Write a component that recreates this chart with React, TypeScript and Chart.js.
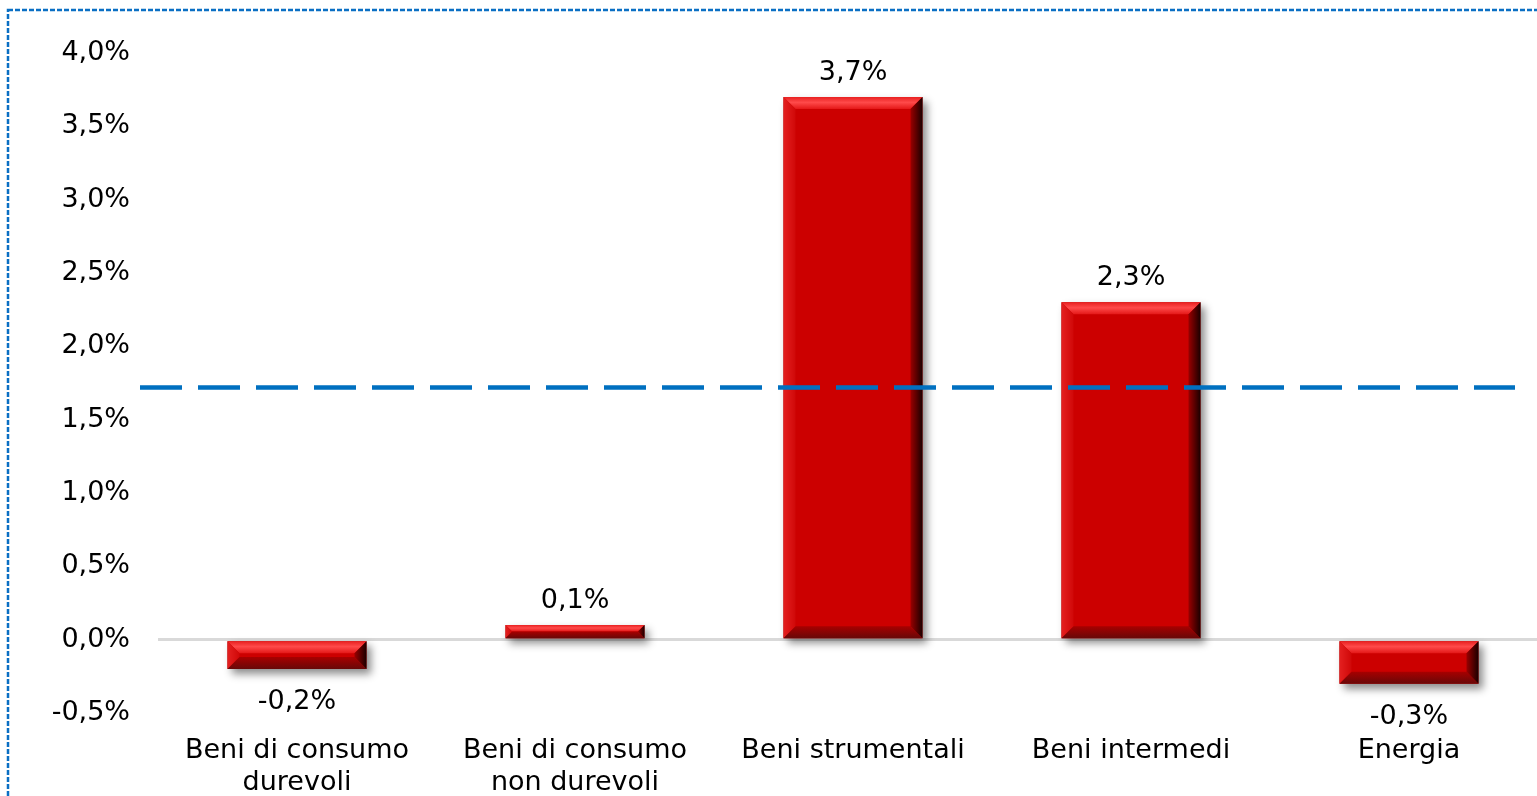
import React, { useEffect, useRef } from "react";
import { Chart, registerables } from "chart.js";

Chart.register(...registerables);

const categories: (string | string[])[] = [
  ["Beni di consumo", "durevoli"],
  ["Beni di consumo", "non durevoli"],
  "Beni strumentali",
  "Beni intermedi",
  "Energia",
];
const values: number[] = [-0.2, 0.1, 3.7, 2.3, -0.3];
const averageValue = 1.72;
const yMin = -0.5;
const yMax = 4.0;
const yStep = 0.5;

const fmt = (v: number) => v.toFixed(1).replace(".", ",") + "%";

const FONT = "DejaVu Sans";
const FSIZE = 27;

const decorPlugin = {
  id: "decor",
  beforeDatasetsDraw(chart: any) {
    const ctx = chart.ctx;
    const meta = chart.getDatasetMeta(0);
    meta.data.forEach((bar: any) => {
      const { x, y, base, width } = bar.getProps(["x", "y", "base", "width"], true);
      const l = x - width / 2;
      const t = Math.min(y, base);
      const h = Math.abs(base - y);
      ctx.save();
      ctx.shadowColor = "rgba(0,0,0,0.45)";
      ctx.shadowBlur = 8;
      ctx.shadowOffsetX = 4;
      ctx.shadowOffsetY = 5;
      ctx.fillStyle = "#999";
      ctx.fillRect(l, t, width, h);
      ctx.restore();
    });
  },
  afterDatasetsDraw(chart: any) {
    const ctx = chart.ctx;
    const meta = chart.getDatasetMeta(0);
    meta.data.forEach((bar: any, i: number) => {
      const { x, y, base, width } = bar.getProps(["x", "y", "base", "width"], true);
      const l = x - width / 2;
      const r = x + width / 2;
      const t = Math.min(y, base);
      const b = Math.max(y, base);
      const h = b - t;
      const bv = Math.min(12, h / 2, width / 2);
      ctx.save();
      let g = ctx.createLinearGradient(0, t, 0, t + bv);
      g.addColorStop(0, "#e82020");
      g.addColorStop(0.45, "#ff4a4a");
      g.addColorStop(1, "#e41818");
      ctx.fillStyle = g;
      ctx.beginPath();
      ctx.moveTo(l, t);
      ctx.lineTo(r, t);
      ctx.lineTo(r - bv, t + bv);
      ctx.lineTo(l + bv, t + bv);
      ctx.closePath();
      ctx.fill();
      g = ctx.createLinearGradient(l, 0, l + bv, 0);
      g.addColorStop(0, "#e42020");
      g.addColorStop(1, "#d00808");
      ctx.fillStyle = g;
      ctx.beginPath();
      ctx.moveTo(l, t);
      ctx.lineTo(l + bv, t + bv);
      ctx.lineTo(l + bv, b - bv);
      ctx.lineTo(l, b);
      ctx.closePath();
      ctx.fill();
      g = ctx.createLinearGradient(0, b - bv, 0, b);
      g.addColorStop(0, "#a80000");
      g.addColorStop(1, "#680808");
      ctx.fillStyle = g;
      ctx.beginPath();
      ctx.moveTo(l, b);
      ctx.lineTo(r, b);
      ctx.lineTo(r - bv, b - bv);
      ctx.lineTo(l + bv, b - bv);
      ctx.closePath();
      ctx.fill();
      g = ctx.createLinearGradient(r - bv, 0, r, 0);
      g.addColorStop(0, "#9a0000");
      g.addColorStop(1, "#1a0000");
      ctx.fillStyle = g;
      ctx.beginPath();
      ctx.moveTo(r, t);
      ctx.lineTo(r, b);
      ctx.lineTo(r - bv, b - bv);
      ctx.lineTo(r - bv, t + bv);
      ctx.closePath();
      ctx.fill();
      ctx.restore();

      const v = values[i];
      ctx.save();
      ctx.font = `${FSIZE}px "${FONT}"`;
      ctx.fillStyle = "#000";
      ctx.textAlign = "center";
      ctx.textBaseline = "middle";
      const ly = v >= 0 ? t - 24 : b + 33;
      ctx.fillText(fmt(v), x, ly);
      ctx.restore();
    });

    const yPix = chart.scales.y.getPixelForValue(averageValue);
    const area = chart.chartArea;
    ctx.save();
    ctx.strokeStyle = "#0070C0";
    ctx.lineWidth = 4.5;
    ctx.setLineDash([42, 16]);
    ctx.beginPath();
    ctx.moveTo(area.left - 18, yPix);
    ctx.lineTo(area.right - 33, yPix);
    ctx.stroke();
    ctx.restore();
  },
  afterDraw(chart: any) {
    const ctx = chart.ctx;
    ctx.save();
    ctx.strokeStyle = "#0A6FC4";
    ctx.lineWidth = 2.5;
    ctx.setLineDash([5, 2]);
    ctx.strokeRect(8, 10, 3000, 3000);
    ctx.restore();
  },
};

export default function App() {
  const ref = useRef<HTMLCanvasElement | null>(null);
  useEffect(() => {
    if (!ref.current) return;
    const chart = new Chart(ref.current, {
      type: "bar",
      data: {
        labels: categories,
        datasets: [
          {
            data: values,
            backgroundColor: "#CC0000",
            borderWidth: 0,
            barPercentage: 1,
            categoryPercentage: 0.5,
          },
        ],
      },
      options: {
        animation: false,
        responsive: false,
        layout: { padding: { top: 53, right: 12, left: 0, bottom: 0 } },
        plugins: { legend: { display: false }, tooltip: { enabled: false } },
        scales: {
          x: {
            grid: { display: false, drawTicks: false },
            border: { display: false },
            ticks: {
              color: "#000",
              font: { family: FONT, size: FSIZE, lineHeight: 1.19 },
              padding: 22,
              maxRotation: 0,
              autoSkip: false,
            },
            afterFit: (s: any) => {
              s.height = 117;
            },
          },
          y: {
            min: yMin,
            max: yMax,
            grid: {
              drawTicks: false,
              lineWidth: 3,
              color: (c: any) => (c.tick && c.tick.value === 0 ? "#D9D9D9" : "rgba(0,0,0,0)"),
            },
            border: { display: false },
            ticks: {
              stepSize: yStep,
              color: "#000",
              font: { family: FONT, size: FSIZE },
              padding: 28,
              callback: (v: any) => fmt(Number(v)),
            },
            afterFit: (s: any) => {
              s.width = 158;
            },
          },
        },
      },
      plugins: [decorPlugin],
    });
    return () => chart.destroy();
  }, []);
  return (
    <div style={{ position: "absolute", left: 0, top: 0, width: 1560, height: 830, overflow: "hidden" }}>
      <canvas ref={ref} width={1560} height={830} style={{ display: "block" }} />
    </div>
  );
}
